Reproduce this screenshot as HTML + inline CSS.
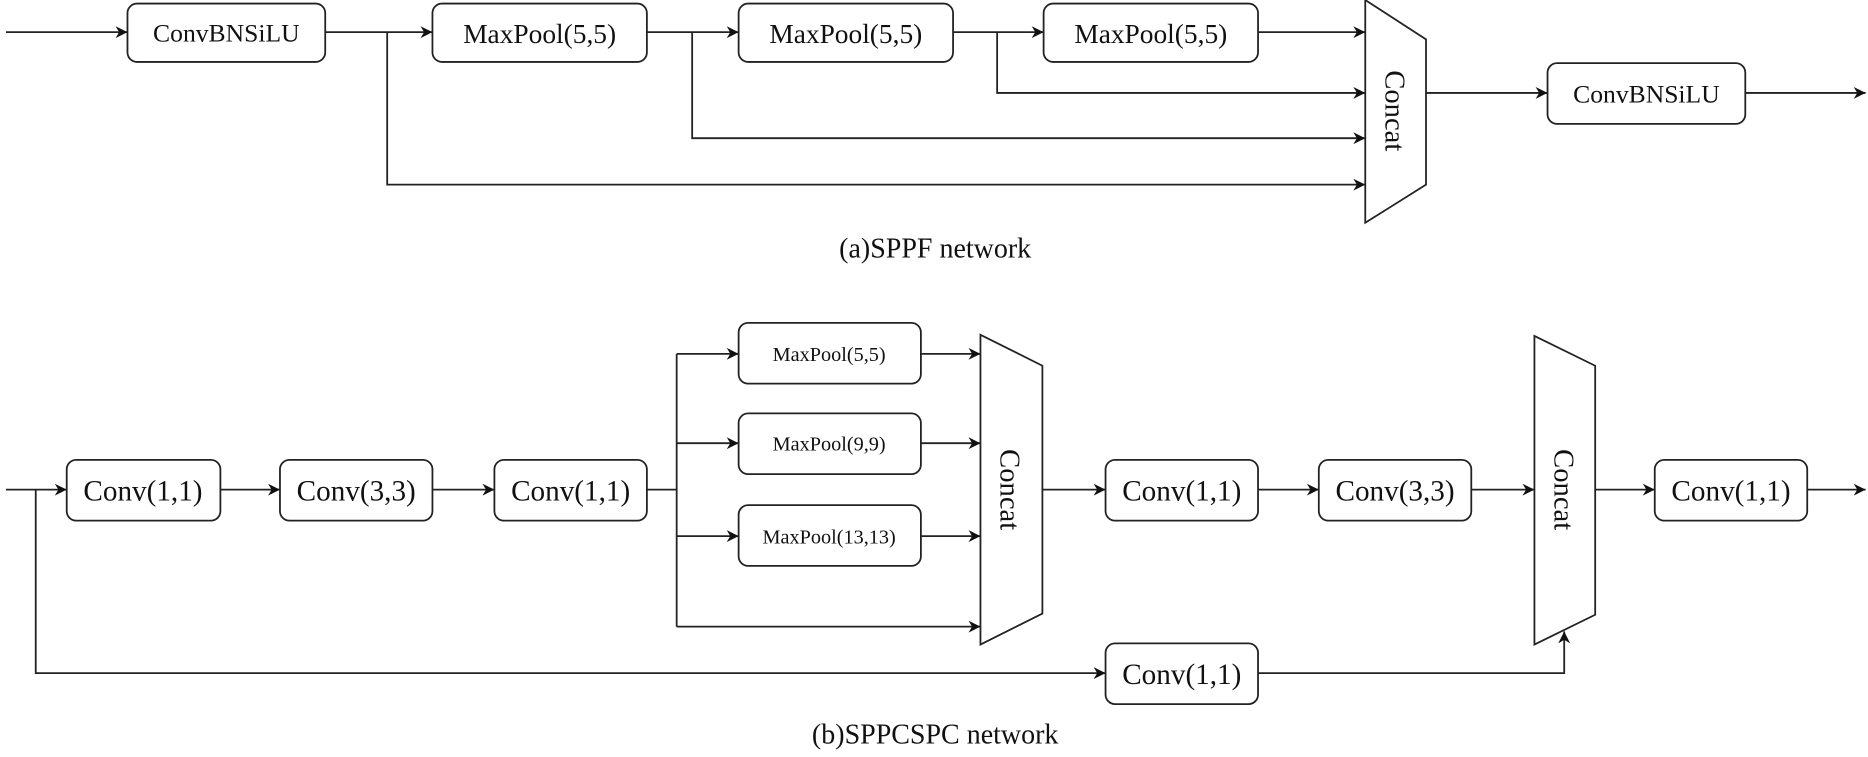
<!DOCTYPE html>
<html><head><meta charset="utf-8"><style>
html,body{margin:0;padding:0;background:#fff;}
svg{display:block;}
text{font-family:"Liberation Serif",serif;fill:#111;}
</style></head><body>
<svg width="1868" height="757" viewBox="0 0 1568 635.4" preserveAspectRatio="none" xmlns="http://www.w3.org/2000/svg">
<defs>
<marker id="a" viewBox="0 0 10 10" refX="10" refY="5" markerWidth="11" markerHeight="10" markerUnits="userSpaceOnUse" orient="auto">
<path d="M0,0 L10,5 L0,10 L3,5 Z" fill="#111"/>
</marker>
</defs>
<g fill="none" stroke="#222" stroke-width="1.5">
<!-- top -->
<line x1="5" y1="27" x2="107" y2="27" marker-end="url(#a)"/>
<rect x="107" y="3" width="166" height="49" rx="8"/>
<line x1="273" y1="27" x2="363" y2="27" marker-end="url(#a)"/>
<rect x="363" y="3" width="180" height="49" rx="8"/>
<line x1="543" y1="27" x2="620" y2="27" marker-end="url(#a)"/>
<rect x="620" y="3" width="180" height="49" rx="8"/>
<line x1="800" y1="27" x2="876" y2="27" marker-end="url(#a)"/>
<rect x="876" y="3" width="180" height="49" rx="8"/>
<line x1="1056" y1="27" x2="1146" y2="27" marker-end="url(#a)"/>
<polyline points="325,27 325,155 1146,155" marker-end="url(#a)"/>
<polyline points="581,27 581,116 1146,116" marker-end="url(#a)"/>
<polyline points="837,27 837,78 1146,78" marker-end="url(#a)"/>
<polygon points="1146,0 1197,33 1197,155 1146,187" fill="#fff"/>
<line x1="1197" y1="78" x2="1299" y2="78" marker-end="url(#a)"/>
<rect x="1299" y="53" width="166" height="51" rx="8"/>
<line x1="1465" y1="78" x2="1566" y2="78" marker-end="url(#a)"/>
<!-- bottom -->
<line x1="5" y1="411" x2="56" y2="411" marker-end="url(#a)"/>
<rect x="56" y="386" width="129" height="51" rx="8"/>
<line x1="185" y1="411" x2="235" y2="411" marker-end="url(#a)"/>
<rect x="235" y="386" width="128" height="51" rx="8"/>
<line x1="363" y1="411" x2="415" y2="411" marker-end="url(#a)"/>
<rect x="415" y="386" width="128" height="51" rx="8"/>
<line x1="543" y1="411" x2="568" y2="411"/>
<line x1="568" y1="297" x2="568" y2="526"/>
<line x1="568" y1="297" x2="620" y2="297" marker-end="url(#a)"/>
<line x1="568" y1="372" x2="620" y2="372" marker-end="url(#a)"/>
<line x1="568" y1="450" x2="620" y2="450" marker-end="url(#a)"/>
<line x1="568" y1="526" x2="823" y2="526" marker-end="url(#a)"/>
<rect x="620" y="271" width="153" height="51" rx="8"/>
<rect x="620" y="347" width="153" height="51" rx="8"/>
<rect x="620" y="424" width="153" height="51" rx="8"/>
<line x1="773" y1="297" x2="823" y2="297" marker-end="url(#a)"/>
<line x1="773" y1="372" x2="823" y2="372" marker-end="url(#a)"/>
<line x1="773" y1="450" x2="823" y2="450" marker-end="url(#a)"/>
<polygon points="823,281 875,307 875,515 823,541" fill="#fff"/>
<line x1="875" y1="411" x2="928" y2="411" marker-end="url(#a)"/>
<rect x="928" y="386" width="128" height="51" rx="8"/>
<line x1="1056" y1="411" x2="1107" y2="411" marker-end="url(#a)"/>
<rect x="1107" y="386" width="128" height="51" rx="8"/>
<line x1="1235" y1="411" x2="1288" y2="411" marker-end="url(#a)"/>
<polygon points="1288,282 1339,307 1339,516 1288,541" fill="#fff"/>
<line x1="1339" y1="411" x2="1389" y2="411" marker-end="url(#a)"/>
<rect x="1389" y="386" width="128" height="51" rx="8"/>
<line x1="1517" y1="411" x2="1566" y2="411" marker-end="url(#a)"/>
<polyline points="30,411 30,565 928,565" marker-end="url(#a)"/>
<rect x="928" y="540" width="128" height="51" rx="8"/>
<polyline points="1056,565 1313,565 1313,530" marker-end="url(#a)"/>
</g>
<g font-size="23" text-anchor="middle">
<text x="190" y="35" font-size="21.5">ConvBNSiLU</text>
<text x="453" y="36">MaxPool(5,5)</text>
<text x="710" y="36">MaxPool(5,5)</text>
<text x="966" y="36">MaxPool(5,5)</text>
<text x="1382" y="86" font-size="21.5">ConvBNSiLU</text>
<text transform="translate(1163,93) rotate(90)" font-size="24">Concat</text>
<text x="785" y="216" font-size="23.5">(a)SPPF network</text>
<text x="120" y="420" font-size="24.5">Conv(1,1)</text>
<text x="299" y="420" font-size="24.5">Conv(3,3)</text>
<text x="479" y="420" font-size="24.5">Conv(1,1)</text>
<text x="696" y="303" font-size="17">MaxPool(5,5)</text>
<text x="696" y="378" font-size="17">MaxPool(9,9)</text>
<text x="696" y="456" font-size="17">MaxPool(13,13)</text>
<text transform="translate(840,411) rotate(90)" font-size="24">Concat</text>
<text x="992" y="420" font-size="24.5">Conv(1,1)</text>
<text x="1171" y="420" font-size="24.5">Conv(3,3)</text>
<text transform="translate(1305,411) rotate(90)" font-size="24">Concat</text>
<text x="1453" y="420" font-size="24.5">Conv(1,1)</text>
<text x="992" y="574" font-size="24.5">Conv(1,1)</text>
<text x="785" y="624" font-size="23.5">(b)SPPCSPC network</text>
</g>
</svg>
</body></html>
